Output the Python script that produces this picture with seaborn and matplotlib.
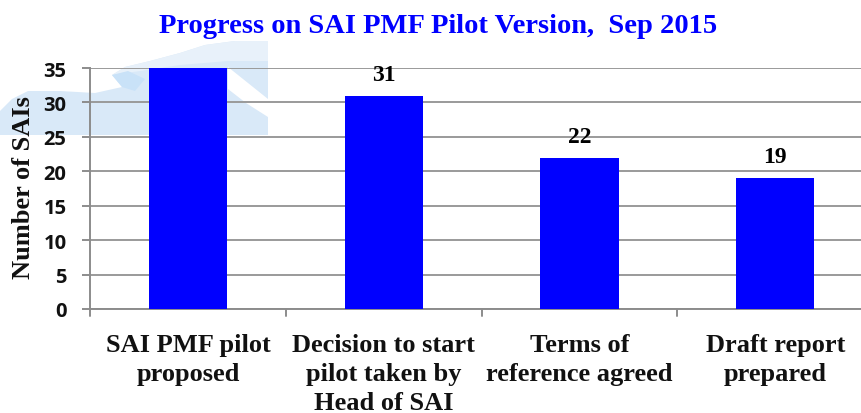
import matplotlib
matplotlib.use("Agg")
import matplotlib.pyplot as plt
from matplotlib.patches import Polygon
import seaborn as sns
import pandas as pd

categories = ["SAI PMF pilot\nproposed", "Decision to start\npilot taken by\nHead of SAI",
              "Terms of\nreference agreed", "Draft report\nprepared"]
values = [35, 31, 22, 19]
labels = ["", "31", "22", "19"]
yticks = [0, 5, 10, 15, 20, 25, 30, 35]
title = "Progress on SAI PMF Pilot Version,  Sep 2015"
ylabel = "Number of SAIs"

W, H = 862, 414
sns.set_theme(style="white")
plt.rcParams["font.family"] = ["Liberation Serif", "DejaVu Serif"]
fig = plt.figure(figsize=(W / 100, H / 100), dpi=100, facecolor="white")
ax = fig.add_axes([90 / W, 1 - 310 / H, (W - 90) / W, (310 - 69) / H])
ax.patch.set_alpha(0)


def backdrop(points, colour, order):
    # pale watercolour decoration behind the chart (pixel coordinates of the figure)
    fig.patches.append(Polygon([(x / W, 1 - y / H) for x, y in points], closed=True,
                               transform=fig.transFigure, facecolor=colour,
                               edgecolor="none", zorder=order))


backdrop([(0, 136), (268, 136), (268, 42), (235, 42), (205, 46), (180, 54), (150, 62), (125, 68),
          (112, 76), (122, 88), (95, 94), (60, 92), (28, 92), (12, 100), (0, 112)],
         "#d9e9f8", -5)
backdrop([(112, 76), (125, 68), (150, 62), (180, 54), (205, 46), (235, 42), (268, 42), (268, 62),
          (228, 62), (180, 66), (140, 72)], "#e8f1fa", -4)
backdrop([(228, 68), (268, 100), (268, 118), (246, 104), (228, 90)], "#ffffff", -3)
backdrop([(112, 76), (128, 72), (145, 80), (135, 92), (122, 88)], "#c9e2f8", -3)

df = pd.DataFrame({"cat": categories, "val": values})
sns.barplot(data=df, x="cat", y="val", color="#0000ff", saturation=1, width=0.4, ax=ax,
            zorder=3, linewidth=0)

step = 195.8
ax.set_xlim(-0.5, -0.5 + (W - 90) / step)
ax.set_ylim(0, 35)
ax.set_yticks(yticks)
ax.set_yticklabels([str(t) for t in yticks], family="Open Sans", fontweight="bold",
                   fontsize=14.5, color="#111111")
ax.set_xticks(range(len(categories)))
ax.set_xticklabels(categories, fontweight="bold", fontsize=19, color="#111111", linespacing=1.34)
ax.tick_params(axis="x", length=0, pad=17)
ax.tick_params(axis="y", length=6, width=1.4, color="#8c8c8c", pad=11, left=True)
for i in range(len(categories)):
    ax.plot([i - 0.5, i - 0.5], [0, -1.0], color="#8c8c8c", lw=1.4, clip_on=False, zorder=2)
ax.set_xlabel("")
ax.set_ylabel("")
ax.grid(axis="y", color="#9a9a9a", lw=1.4, zorder=1)
ax.grid(axis="x", visible=False)
for s in ["top", "right"]:
    ax.spines[s].set_visible(False)
for s in ["left", "bottom"]:
    ax.spines[s].set_visible(True)
    ax.spines[s].set_color("#8c8c8c")
    ax.spines[s].set_linewidth(1.4)

for i, lab in enumerate(labels):
    if lab:
        ax.text(i, values[i] + 1.55, lab, ha="center", va="bottom", fontsize=17,
                fontweight="bold", color="black", zorder=5)

fig.text(438 / W, 1 - 26.5 / H, title, ha="center", va="center", fontsize=20.5,
         fontweight="bold", color="#0000ff")
fig.text(24 / W, 1 - 188 / H, ylabel, ha="center", va="center", rotation=90, fontsize=19,
         fontweight="bold", color="#111111")
fig.savefig("out.png", dpi=100)
